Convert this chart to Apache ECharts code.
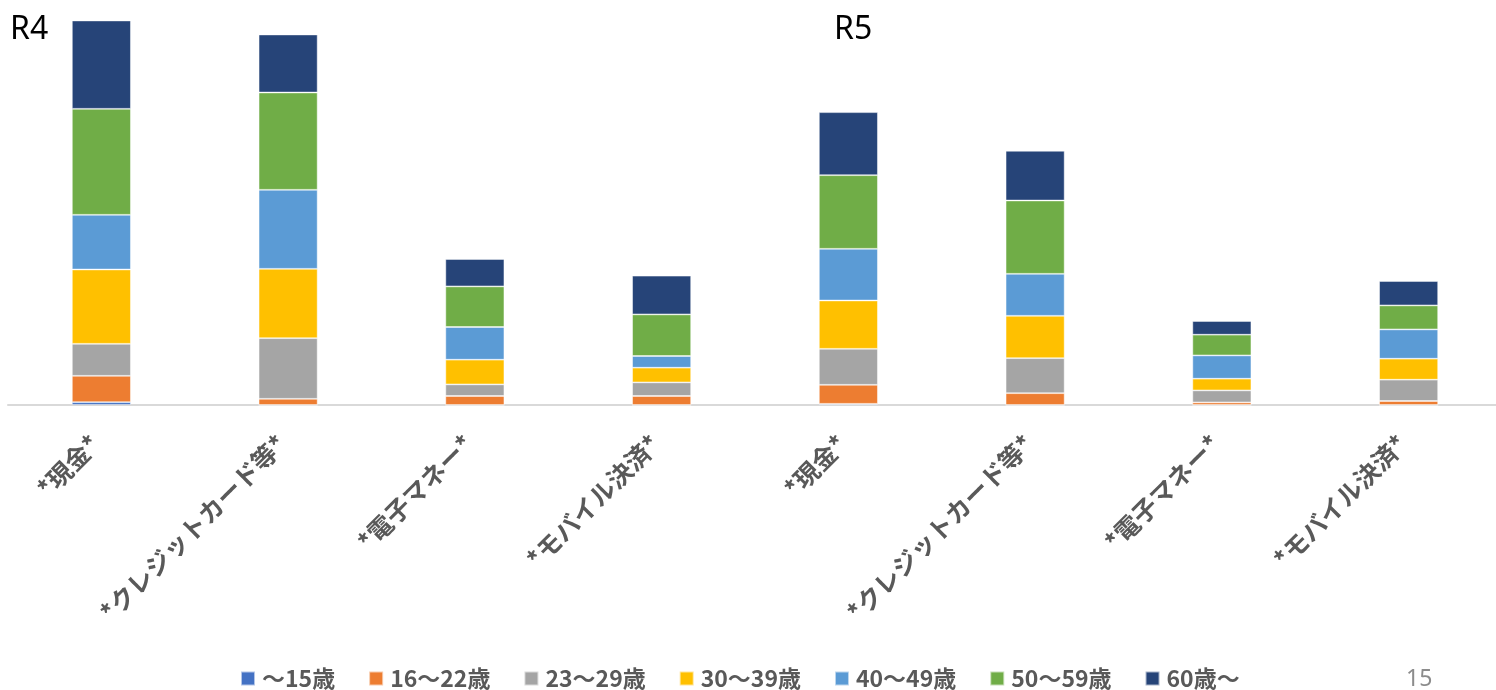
<!DOCTYPE html>
<html>
<head>
<meta charset="utf-8">
<script src="https://cdn.jsdelivr.net/npm/echarts@6/dist/echarts.min.js"></script>
<style>
  html, body { margin: 0; padding: 0; background: #fff; }
  #chart { width: 1496px; height: 690px; }
</style>
</head>
<body>
<div id="chart"></div>
<script>
const categories = ['*現金*', '*クレジットカード等*', '*電子マネー*', '*モバイル決済*', '*現金*', '*クレジットカード等*', '*電子マネー*', '*モバイル決済*']
const ageNames = ['〜15歳', '16〜22歳', '23〜29歳', '30〜39歳', '40〜49歳', '50〜59歳', '60歳〜']

// values (R4 x4, then R5 x4)
const age15 = [2.8, 0, 0, 0, 1.2, 0, 0, 0]
const age16to22 = [26.4, 6.2, 9, 9, 19, 11.8, 2.6, 4]
const age23to29 = [32, 60.6, 11.6, 13.6, 36, 35, 12, 21.3]
const age30to39 = [74.3, 69.4, 24.7, 14.7, 48.3, 42.4, 11.7, 21]
const age40to49 = [54.7, 79, 32.7, 11.7, 51.7, 42, 23.3, 29.3]
const age50to59 = [106, 97.3, 40.6, 41.6, 73.6, 73.3, 20.7, 24]
const age60plus = [88.3, 58, 27.4, 38.7, 63, 49.7, 13.7, 24.4]

const seriesValues = [age15, age16to22, age23to29, age30to39, age40to49, age50to59, age60plus]
const colors = ['#4472C4', '#ED7D31', '#A5A5A5', '#FFC000', '#5B9BD5', '#70AD47', '#264478']

const chart = echarts.init(document.getElementById('chart'))

chart.setOption({
  animation: false,
  color: colors,
  textStyle: { fontFamily: '"Noto Sans CJK JP", "Noto Sans", sans-serif' },
  grid: {
    left: 8,
    top: 5,
    width: 1494,
    height: 400,
    outerBoundsMode: 'none',
  },
  legend: {
    top: 662,
    left: 235,
    itemWidth: 14,
    itemHeight: 14,
    itemGap: 33,
    icon: 'rect',
    textStyle: {
      color: '#595959',
      fontSize: 23,
      fontWeight: 'bold',
      padding: [0, 0, 0, 2],
    },
    data: ageNames,
  },
  xAxis: {
    type: 'category',
    data: categories,
    axisLine: { lineStyle: { color: '#d9d9d9', width: 2 } },
    axisTick: { show: false },
    axisLabel: {
      interval: 0,
      rotate: 45,
      margin: 28,
      padding: [0, 9, 0, 0],
      color: '#595959',
      fontSize: 25,
      fontWeight: 'bold',
    },
  },
  yAxis: {
    type: 'value',
    min: 0,
    max: 400,
    show: false,
  },
  graphic: [
    { type: 'text', x: 10, y: 30, style: { text: 'R4', fontSize: 32, fill: '#000', verticalAlign: 'middle', fontFamily: '"Noto Sans", sans-serif' } },
    { type: 'text', x: 834, y: 30, style: { text: 'R5', fontSize: 32, fill: '#000', verticalAlign: 'middle', fontFamily: '"Noto Sans", sans-serif' } },
    { type: 'text', x: 1406, y: 679, style: { text: '15', fontSize: 23, fill: '#8c8c8c', verticalAlign: 'middle', fontFamily: '"Noto Sans", sans-serif' } },
  ],
  series: ageNames.map((name, i) => ({
    name,
    type: 'bar',
    stack: 'total',
    barWidth: 59,
    data: seriesValues[i],
    itemStyle: {
      borderColor: 'rgba(255,255,255,0.6)',
      borderWidth: 0.8,
    },
  })),
})
</script>
</body>
</html>
